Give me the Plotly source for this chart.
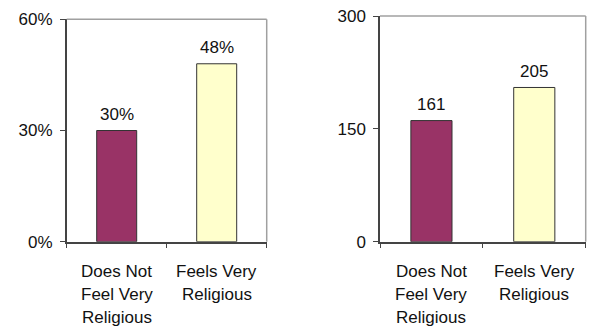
import plotly.graph_objects as go
from plotly.subplots import make_subplots

categories = ["Does Not Feel Very Religious", "Feels Very Religious"]
label_lines = [["Does Not", "Feel Very", "Religious"], ["Feels Very", "Religious"]]
share_values = [30, 48]
count_values = [161, 205]
bar_colors = ["#993366", "#FFFFCC"]

pct_ticks = [0, 30, 60]
count_ticks = [0, 150, 300]

FONT = "Liberation Sans, Arial, sans-serif"
W, H = 591, 326
TXT = "#111111"

fig = make_subplots(rows=1, cols=2)

panels = [
    ("x", "y", share_values, [f"{v}%" for v in share_values]),
    ("x2", "y2", count_values, [str(v) for v in count_values]),
]

for col, (xa, ya, vals, labels) in enumerate(panels, start=1):
    fig.add_trace(go.Bar(
        x=categories, y=vals,
        marker=dict(color=bar_colors, line=dict(color="#333333", width=1)),
        showlegend=False, hoverinfo="x+y",
    ), row=1, col=col)
    # value labels above the bars
    for cat, v, lab in zip(categories, vals, labels):
        fig.add_annotation(x=cat, y=v, xref=xa, yref=ya, text=lab,
                           showarrow=False, yanchor="middle", yshift=16,
                           font=dict(family=FONT, size=17, color=TXT))

axis_common = dict(showgrid=False, zeroline=False, showline=True,
                   linecolor="#444444", linewidth=1.5, automargin=False,
                   ticks="outside", ticklen=5, tickcolor="#444444",
                   tickfont=dict(family=FONT, size=17, color=TXT))

fig.update_xaxes(**axis_common, showticklabels=False, tickson="boundaries")
fig.update_xaxes(domain=[66.7 / W, 266.7 / W], row=1, col=1)
fig.update_xaxes(domain=[380 / W, 585.7 / W], row=1, col=2)

fig.update_yaxes(**axis_common, ticklabelstandoff=4)
fig.update_yaxes(range=[0, 60], tickvals=pct_ticks,
                 ticktext=[f"{t}%" for t in pct_ticks],
                 domain=[1 - 241.7 / H, 1 - 19.3 / H], row=1, col=1)
fig.update_yaxes(range=[0, 300], tickvals=count_ticks,
                 ticktext=[str(t) for t in count_ticks],
                 domain=[1 - 241.7 / H, 1 - 16 / H], row=1, col=2)

# light frame on top and right of each plot area
for xa, ya in (("x", "y"), ("x2", "y2")):
    fig.add_shape(type="line", xref=f"{xa} domain", yref=f"{ya} domain",
                  x0=0, x1=1, y0=1, y1=1, line=dict(color="#A0A0A0", width=1.5))
    fig.add_shape(type="line", xref=f"{xa} domain", yref=f"{ya} domain",
                  x0=1, x1=1, y0=0, y1=1, line=dict(color="#A0A0A0", width=1.5))

# multi-line category labels under each bar
line_centers = [271, 294, 317]
for xa in ("x", "x2"):
    for cat, lines in zip(categories, label_lines):
        for i, line in enumerate(lines):
            fig.add_annotation(x=cat, xref=xa, y=1 - line_centers[i] / H, yref="paper",
                               text=line, showarrow=False, yanchor="middle",
                               font=dict(family=FONT, size=17, color=TXT))

fig.update_layout(
    width=W, height=H, margin=dict(l=0, r=0, t=0, b=0, autoexpand=False),
    paper_bgcolor="white", plot_bgcolor="white",
    bargap=0.6, showlegend=False,
)

fig.write_html("out.html")
